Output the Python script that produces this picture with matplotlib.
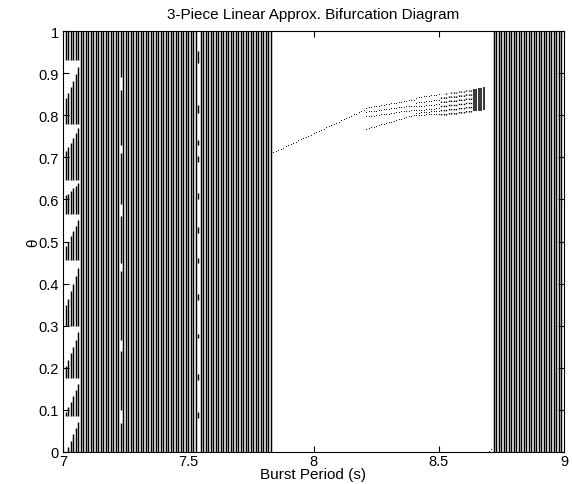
"""
3-piece linear approximation: bifurcation of theta against burst period
"""

import numpy as np
import matplotlib.pyplot as plt

plt.rcParams['font.family'] = ['Liberation Sans', 'DejaVu Sans']
plt.rcParams['font.size'] = 11

step = 0.01		# sweep step of the burst period (s)

# chaotic windows: every sampled period spreads theta over [0, 1]
chaos_left = (7.01, 7.83)
chaos_right = (8.72, 8.99)

# first columns of the left window leave wedge shaped holes
edge_cols = [7.01, 7.02, 7.03, 7.04, 7.05, 7.06]
wedge_tops = [0.930, 0.780, 0.645, 0.565, 0.455, 0.300, 0.175, 0.086]
wedge_bottoms = [
	[0.840, 0.715, 0.610, 0.490, 0.350, 0.205, 0.095, 0.000],
	[0.852, 0.724, 0.614, 0.500, 0.364, 0.218, 0.106, 0.012],
	[0.867, 0.735, 0.620, 0.512, 0.382, 0.234, 0.119, 0.027],
	[0.882, 0.746, 0.626, 0.525, 0.400, 0.250, 0.133, 0.042],
	[0.898, 0.758, 0.632, 0.538, 0.419, 0.267, 0.147, 0.057],
	[0.914, 0.769, 0.639, 0.551, 0.437, 0.284, 0.161, 0.071],
]

# holes in the column at 7.23
holes_723 = [(0.86, 0.89), (0.71, 0.73), (0.56, 0.59), (0.43, 0.45), (0.24, 0.265), (0.07, 0.10)]

# column at 7.54 only hits a few short stretches
dashes_754 = [(0.924, 0.952), (0.805, 0.824), (0.729, 0.740), (0.690, 0.702),
	(0.600, 0.615), (0.520, 0.535), (0.450, 0.460), (0.360, 0.375),
	(0.270, 0.280), (0.170, 0.185), (0.080, 0.095)]

# stray points just before the right window
stray_period = [8.70, 8.71]
stray_theta = [0.003, 0.007]

# period-1 branch
p1_period = np.round(np.arange(7.84, 8.205, step), 2)
p1_theta = [0.712, 0.715, 0.718, 0.720, 0.723, 0.726, 0.729, 0.732, 0.734, 0.737,
	0.740, 0.743, 0.746, 0.748, 0.751, 0.754, 0.757, 0.760, 0.762, 0.765,
	0.768, 0.771, 0.774, 0.776, 0.779, 0.782, 0.785, 0.788, 0.790, 0.793,
	0.796, 0.799, 0.802, 0.804, 0.807, 0.810, 0.813]

# period-4 branches
p4_period = np.round(np.arange(8.21, 8.405, step), 2)
p4_theta = [
	[0.818, 0.819, 0.820, 0.821, 0.822, 0.823, 0.824, 0.825, 0.826, 0.827,
	 0.828, 0.829, 0.830, 0.831, 0.832, 0.833, 0.834, 0.835, 0.836, 0.837],
	[0.808, 0.809, 0.810, 0.810, 0.811, 0.812, 0.813, 0.814, 0.815, 0.815,
	 0.816, 0.817, 0.818, 0.819, 0.820, 0.820, 0.821, 0.822, 0.823, 0.823],
	[0.797, 0.798, 0.799, 0.799, 0.800, 0.801, 0.802, 0.803, 0.804, 0.804,
	 0.805, 0.806, 0.807, 0.808, 0.809, 0.809, 0.810, 0.811, 0.812, 0.812],
	[0.768, 0.770, 0.772, 0.773, 0.775, 0.777, 0.778, 0.780, 0.782, 0.783,
	 0.785, 0.787, 0.788, 0.790, 0.792, 0.793, 0.795, 0.797, 0.798, 0.800],
]

# period-8 branches
p8_period = np.round(np.arange(8.41, 8.505, step), 2)
p8_theta = [
	[0.842, 0.843, 0.844, 0.845, 0.845, 0.846, 0.847, 0.848, 0.849, 0.850],
	[0.830, 0.831, 0.831, 0.832, 0.833, 0.833, 0.834, 0.835, 0.835, 0.836],
	[0.822, 0.822, 0.823, 0.823, 0.824, 0.824, 0.825, 0.825, 0.826, 0.826],
	[0.812, 0.812, 0.813, 0.813, 0.814, 0.814, 0.815, 0.815, 0.816, 0.816],
	[0.806, 0.806, 0.807, 0.807, 0.808, 0.808, 0.809, 0.809, 0.810, 0.810],
	[0.800, 0.800, 0.801, 0.801, 0.802, 0.802, 0.803, 0.803, 0.804, 0.804],
]

# narrow chaotic band before the right window
band_period = np.round(np.arange(8.51, 8.685, step), 2)
band_lo = [0.800, 0.801, 0.801, 0.802, 0.803, 0.803, 0.804, 0.805, 0.805,
	0.806, 0.807, 0.807, 0.808, 0.809, 0.809, 0.810, 0.811, 0.812]
band_hi = [0.850, 0.851, 0.852, 0.853, 0.854, 0.855, 0.856, 0.857, 0.857,
	0.858, 0.859, 0.860, 0.861, 0.862, 0.863, 0.864, 0.865, 0.866]
band_solid_from = 8.64


def covered(holes):
	# stretches of [0, 1] left over once the holes are cut out
	segs = []
	lo = 0.0
	for a, b in sorted(holes):
		if a > lo:
			segs.append((lo, a))
		lo = max(lo, b)
	if lo < 1.0:
		segs.append((lo, 1.0))
	return segs


col_x = []
col_lo = []
col_hi = []

def add_column(x, segs):
	for a, b in segs:
		col_x.append(x)
		col_lo.append(a)
		col_hi.append(b)

left_cols = np.round(np.arange(chaos_left[0], chaos_left[1] + step/2, step), 2)
right_cols = np.round(np.arange(chaos_right[0], chaos_right[1] + step/2, step), 2)

for x in left_cols:
	if x in edge_cols:
		i = edge_cols.index(x)
		add_column(x, covered(list(zip(wedge_bottoms[i], wedge_tops))))
	elif abs(x - 7.23) < 1e-6:
		add_column(x, covered(holes_723))
	elif abs(x - 7.54) < 1e-6:
		add_column(x, dashes_754)
	else:
		add_column(x, [(0.0, 1.0)])

for x in right_cols:
	add_column(x, [(0.0, 1.0)])


figure = plt.figure(figsize=(5.72, 4.85), dpi=100)
ax = figure.add_axes([63/572, 32/485, 501/572, 421/485])

ax.vlines(col_x, col_lo, col_hi, colors='k', linewidth=1.05)

ms = 1.6
ax.plot(p1_period, p1_theta, 'k.', markersize=ms, markeredgewidth=0)
for br in p4_theta:
	ax.plot(p4_period, br, 'k.', markersize=ms, markeredgewidth=0)
for br in p8_theta:
	ax.plot(p8_period, br, 'k.', markersize=ms, markeredgewidth=0)
ax.plot(stray_period, stray_theta, 'k.', markersize=ms, markeredgewidth=0)

for x, lo, hi in zip(band_period, band_lo, band_hi):
	if x >= band_solid_from:
		ax.vlines(x, lo, hi, colors='k', linewidth=1.1)
	else:
		ax.vlines(x, lo, hi, colors='k', linewidth=1.0, linestyles=(0, (1, 2.0)))

ax.set_xlim(7, 9)
ax.set_ylim(0, 1)
ax.set_xticks([7, 7.5, 8, 8.5, 9])
ax.set_xticklabels(['7', '7.5', '8', '8.5', '9'])
ax.set_yticks(np.round(np.arange(0, 1.01, 0.1), 1))
ax.set_yticklabels(['0', '0.1', '0.2', '0.3', '0.4', '0.5', '0.6', '0.7', '0.8', '0.9', '1'])
ax.tick_params(direction='in', top=True, right=True, length=4, width=0.8, pad=1.5,
	labelsize=10.5)
ax.tick_params(axis='y', pad=3)

ax.set_title('3-Piece Linear Approx. Bifurcation Diagram', fontsize=11, pad=9)
ax.set_xlabel('Burst Period (s)', labelpad=-1)
ax.set_ylabel('θ', labelpad=-1)

figure.savefig('out.png', dpi=100)
